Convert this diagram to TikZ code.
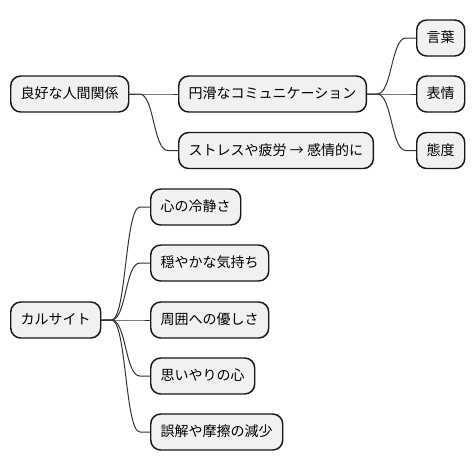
\documentclass[tikz,border=0pt]{standalone}
\usepackage{fontspec}
\setmainfont{Noto Sans CJK JP}
\usetikzlibrary{calc}
\definecolor{boxfill}{HTML}{F1F1F1}
\definecolor{boxline}{HTML}{181818}
\definecolor{linkline}{HTML}{333333}
\tikzset{
  mmbox/.style={draw=boxline, fill=boxfill, line width=1.1pt, rounded corners=7.5pt,
    anchor=west, minimum height=27pt, inner xsep=7.5pt, inner ysep=0pt,
    text height=0.86em, text depth=0.14em,
    font=\fontsize{10.5pt}{12pt}\selectfont},
  link/.style={draw=linkline, line width=0.75pt}
}
\newcommand{\mmlink}[2]{\draw[link] (#1.east) -- ++(10,0) .. controls +(15,0) and +(-15,0) .. ($(#2.west)+(-10,0)$) -- (#2.west);}
\begin{document}
\begin{tikzpicture}[x=0.75pt,y=-0.75pt]
\useasboundingbox (0,0) rectangle (475,472);
\node[mmbox] (root) at (10,94) {良好な人間関係};
\node[mmbox] (c1) at (178,94) {円滑なコミュニケーション};
\node[mmbox] (c2) at (178,150.5) {\makebox[131pt][l]{ストレスや疲労 → 感情的に}};
\node[mmbox] (g1) at (416,38) {言葉};
\node[mmbox] (g2) at (416,94) {表情};
\node[mmbox] (g3) at (416,150.5) {態度};
\node[mmbox] (k) at (10,320) {カルサイト};
\node[mmbox] (d1) at (150,207) {心の冷静さ};
\node[mmbox] (d2) at (150,263) {穏やかな気持ち};
\node[mmbox] (d3) at (150,320) {周囲への優しさ};
\node[mmbox] (d4) at (150,376) {思いやりの心};
\node[mmbox] (d5) at (150,432) {誤解や摩擦の減少};
\mmlink{root}{c1}
\mmlink{root}{c2}
\mmlink{c1}{g1}
\mmlink{c1}{g2}
\mmlink{c1}{g3}
\mmlink{k}{d1}
\mmlink{k}{d2}
\mmlink{k}{d3}
\mmlink{k}{d4}
\mmlink{k}{d5}
\end{tikzpicture}
\end{document}
